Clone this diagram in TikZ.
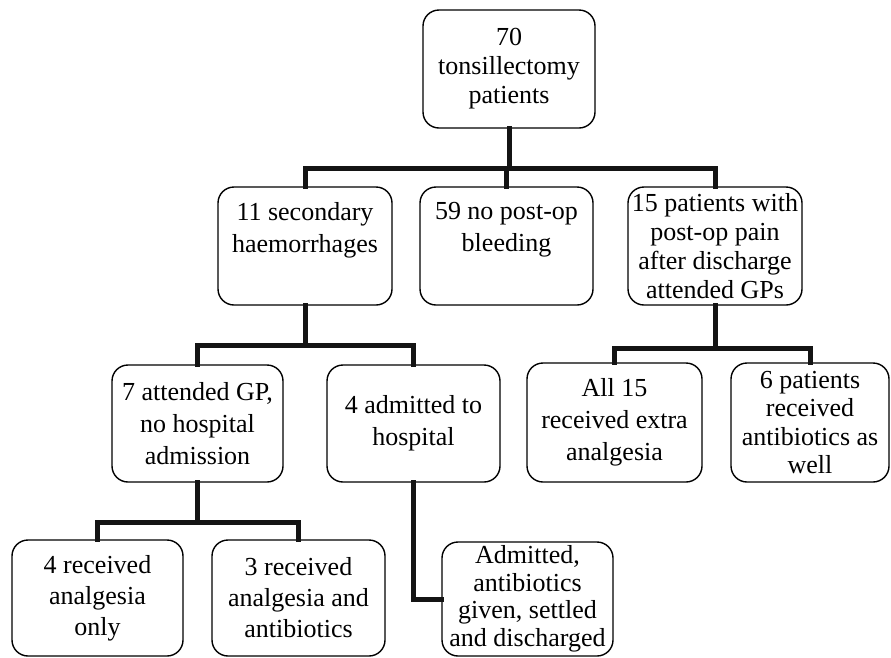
\documentclass[tikz,border=0pt]{standalone}
\usepackage{fontspec}
\setmainfont{Liberation Serif}
\tikzset{
  bx/.style={draw=black, line width=1.4pt, rounded corners=16pt, inner sep=0pt, fill=white},
  conn/.style={line width=5pt, draw=black!92, line cap=rect, line join=miter},
}
% width, height, baselineskip, text
\newcommand{\bxc}[4]{\parbox[c][#2][c]{#1}{\centering\fontsize{26}{#3}\selectfont #4\par}}
% width, height, top pad, baselineskip, text
\newcommand{\bxtop}[5]{\parbox[c][#2][t]{#1}{\vspace*{#3}\centering\fontsize{26}{#4}\selectfont #5\par}}
\begin{document}
\begin{tikzpicture}[x=1pt,y=-1pt]
\useasboundingbox (0,0) rectangle (891,657);
\coordinate (j1) at (509,168);
\coordinate (j2) at (305,345);
\coordinate (j3) at (715,348);
\coordinate (j4) at (197.5,522);
% boxes
\node[bx] (top) at (509,69) {\bxc{172pt}{118pt}{29pt}{70\\tonsillectomy\\patients}};
\node[bx] (n11) at (305,246) {\bxtop{174pt}{118pt}{15pt}{32pt}{11 secondary\\haemorrhages}};
\node[bx] (n59) at (506.5,246) {\bxtop{173pt}{118pt}{15pt}{32pt}{59 no post-op\\bleeding}};
\node[bx] (n15) at (715,246) {\bxc{174pt}{118pt}{29pt}{15 patients with\\post-op pain\\after discharge\\attended GPs}};
\node[bx] (n7) at (197.5,423.5) {\bxc{171pt}{117pt}{32pt}{7 attended GP,\\no hospital\\admission}};
\node[bx] (n4adm) at (413.5,423.5) {\bxc{173pt}{117pt}{32pt}{4 admitted to\\hospital}};
\node[bx] (all15) at (614.5,422.5) {\bxc{175pt}{119pt}{32pt}{All 15\\received extra\\analgesia}};
\node[bx] (n6) at (810,422.5) {\bxc{158pt}{119pt}{28.5pt}{6 patients\\received\\antibiotics as\\well}};
\node[bx] (n4rec) at (97.5,598) {\bxc{171pt}{116pt}{31pt}{4 received\\analgesia\\only}};
\node[bx] (n3rec) at (298.5,598) {\bxc{173pt}{116pt}{31pt}{3 received\\analgesia and\\antibiotics}};
\node[bx] (nadm) at (527.5,599) {\bxc{171pt}{114pt}{27.5pt}{Admitted,\\antibiotics\\given, settled\\and discharged}};
% connectors
\draw[conn] (top.south) -- (j1);
\draw[conn] (n11.north) -- (n11.north |- j1) -- (n15.north |- j1) -- (n15.north);
\draw[conn] (n59.north) -- (n59.north |- j1);
\draw[conn] (n11.south) -- (j2);
\draw[conn] (n7.north) -- (n7.north |- j2) -- (n4adm.north |- j2) -- (n4adm.north);
\draw[conn] (n15.south) -- (j3);
\draw[conn] (all15.north) -- (all15.north |- j3) -- (n6.north |- j3) -- (n6.north);
\draw[conn] (n7.south) -- (j4);
\draw[conn] (n4rec.north) -- (n4rec.north |- j4) -- (n3rec.north |- j4) -- (n3rec.north);
\draw[conn] (n4adm.south) |- (nadm.west);
\end{tikzpicture}
\end{document}
